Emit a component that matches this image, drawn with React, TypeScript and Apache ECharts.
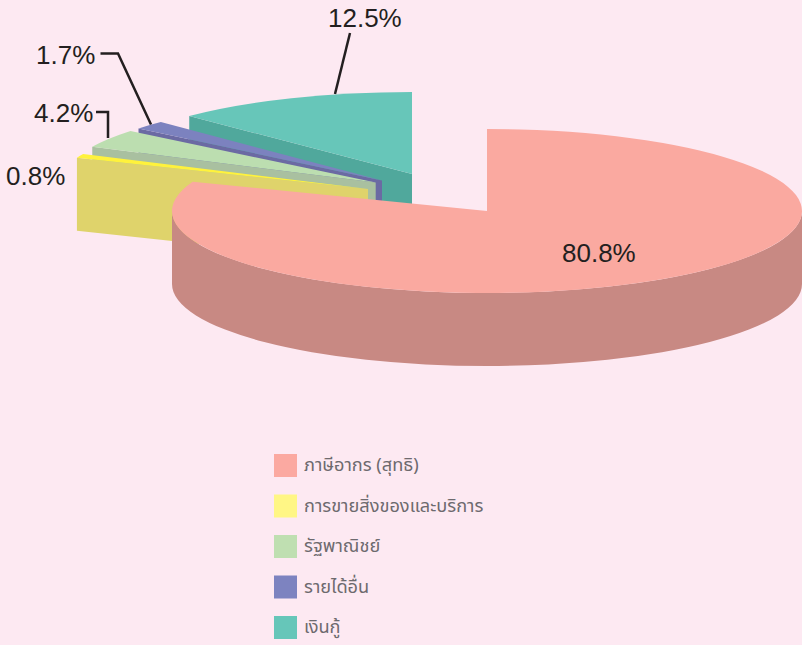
import React, { useEffect, useRef } from "react";
import * as echarts from "echarts";

// ---- data ----
const categories = ["ภาษีอากร (สุทธิ)", "การขายสิ่งของและบริการ", "รัฐพาณิชย์", "รายได้อื่น", "เงินกู้"];
const shares = [80.8, 0.8, 4.2, 1.7, 12.5];

// ---- styling & layout (not data) ----
const topColors = ["#faa9a0", "#fff23c", "#bcdeb0", "#7c82bf", "#67c6b9"];
const legendColors = ["#fba9a1", "#fff685", "#bfdfb1", "#7d83c0", "#66c6b9"];
const sideColors = ["#c88983", "#dfd36b", "#a9c0a0", "#6b6aa3", "#50a89c"];
const RX = 315;
const RY = 82;
const DEPTH = 73;
const TEXT = "#231f20";
const LABEL_FONT = '26px "Liberation Sans", Arial, sans-serif';

// apex of every exploded slice, plus small angular trims in degrees
const apexes = [
  { cx: 487, cy: 211, trimStart: 0, trimEnd: 0 },
  { cx: 368, cy: 189, trimStart: 1.6, trimEnd: 1.5 },
  { cx: 375.7, cy: 182.5, trimStart: 2.1, trimEnd: 0 },
  { cx: 382, cy: 180.5, trimStart: 0.5, trimEnd: 0.4 },
  { cx: 412, cy: 174, trimStart: 0, trimEnd: 0 },
];
const labelSpots = [
  { x: 562, y: 253, leader: null },
  { x: 6, y: 176, leader: null },
  { x: 34, y: 113, leader: [[96, 112], [108, 112], [108, 138]] },
  { x: 36, y: 55, leader: [[100.5, 53.5], [118, 53.5], [151, 124.5]] },
  { x: 328, y: 18, leader: [[350, 33], [335, 94]] },
];
const drawOrder = [4, 3, 2, 1, 0];

function angleRange(i: number): [number, number] {
  const total = shares.reduce((s, v) => s + v, 0);
  const before = shares.slice(0, i).reduce((s, v) => s + v, 0);
  return [
    (before / total) * 360 + apexes[i].trimStart,
    ((before + shares[i]) / total) * 360 + apexes[i].trimEnd,
  ];
}

function renderSlice(i: number) {
  const { cx, cy } = apexes[i];
  const [a0, a1] = angleRange(i);
  const pt = (deg: number, dy = 0): [number, number] => {
    const r = (deg * Math.PI) / 180;
    return [cx + RX * Math.sin(r), cy - RY * Math.cos(r) + dy];
  };
  const arc = (to: [number, number], span: number, sweep: number) =>
    `A ${RX} ${RY} 0 ${span > 180 ? 1 : 0} ${sweep} ${to[0]} ${to[1]}`;

  const children: any[] = [];

  // radial side face
  const p0 = pt(a0);
  children.push({
    type: "polygon",
    shape: { points: [[cx, cy], p0, [p0[0], p0[1] + DEPTH], [cx, cy + DEPTH]] },
    style: { fill: sideColors[i] },
  });

  // front wall: only the part of the rim facing the viewer
  const w0 = Math.max(a0, 90);
  const w1 = Math.min(a1, 270);
  if (w1 > w0) {
    const a = pt(w0);
    const b = pt(w1);
    const bd = pt(w1, DEPTH);
    const ad = pt(w0, DEPTH);
    children.push({
      type: "path",
      shape: {
        pathData: `M ${a[0]} ${a[1]} ${arc(b, w1 - w0, 1)} L ${bd[0]} ${bd[1]} ${arc(ad, w1 - w0, 0)} Z`,
      },
      style: { fill: sideColors[i] },
    });
  }

  // top face
  const p1 = pt(a1);
  children.push({
    type: "path",
    shape: {
      pathData: `M ${cx} ${cy} L ${p0[0]} ${p0[1]} ${arc(p1, a1 - a0, 1)} Z`,
    },
    style: { fill: topColors[i] },
  });

  // leader and label
  const spot = labelSpots[i];
  if (spot.leader) {
    children.push({
      type: "polyline",
      shape: { points: spot.leader },
      style: { fill: "none", stroke: TEXT, lineWidth: 2.5 },
    });
  }
  children.push({
    type: "text",
    style: {
      text: `${shares[i].toFixed(1)}%`,
      x: spot.x,
      y: spot.y,
      font: LABEL_FONT,
      fill: TEXT,
      align: "left",
      verticalAlign: "middle",
    },
  });

  return { type: "group", children };
}

export default function App() {
  const ref = useRef<HTMLDivElement>(null);
  useEffect(() => {
    document.body.style.margin = "0";
    document.body.style.background = "#fde9f2";
    const chart = echarts.init(ref.current!, null, { renderer: "svg" });
    chart.setOption({
      animation: false,
      backgroundColor: "#fde9f2",
      legend: {
        orient: "vertical",
        left: 274,
        top: 454,
        padding: 0,
        itemWidth: 23,
        itemHeight: 23,
        itemGap: 17.5,
        icon: "rect",
        selectedMode: false,
        data: categories,
        textStyle: {
          color: "#6d6a6e",
          fontSize: 18.2,
          fontFamily: '"Noto Sans Thai", "Noto Sans", sans-serif',
          padding: [2, 0, 0, 2],
        },
      },
      series: drawOrder.map((i) => ({
        type: "custom",
        name: categories[i],
        coordinateSystem: "none",
        silent: true,
        itemStyle: { color: legendColors[i] },
        data: [shares[i]],
        renderItem: () => renderSlice(i),
      })),
    });
    return () => chart.dispose();
  }, []);
  return <div ref={ref} style={{ width: 802, height: 645 }} />;
}
